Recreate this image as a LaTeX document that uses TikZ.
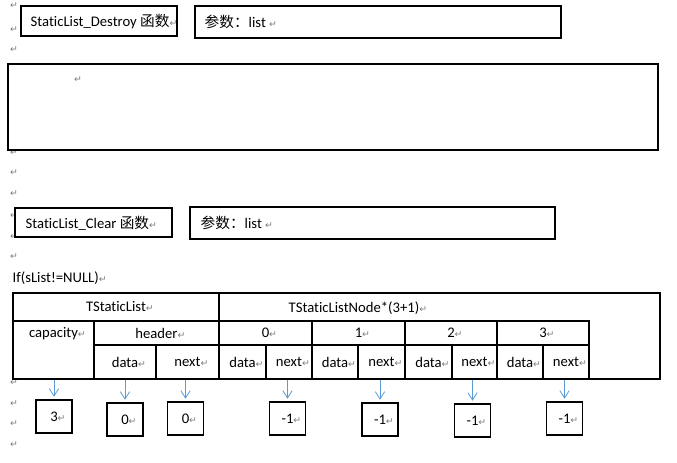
\documentclass[tikz,border=0pt]{standalone}
\usepackage{fontspec}
\setmainfont{Carlito}[Ligatures=NoCommon]
\newfontfamily\cjk{Noto Sans CJK SC}
\newfontfamily\symfont{DejaVu Sans}
\usetikzlibrary{arrows.meta,fit}
\definecolor{arrowblue}{RGB}{91,155,213}
\definecolor{markgray}{RGB}{125,125,125}
\newcommand\retglyph{{\symfont\fontsize{7}{7}\selectfont\color{markgray}↵}}
\newcommand\retmark{\rlap{\retglyph}}

\begin{document}
\begin{tikzpicture}[x=0.75pt,y=-0.75pt,font=\fontsize{11}{13}\selectfont,
	fnbox/.style={draw,line width=1pt,fill=white,inner sep=0pt},
	cell/.style={draw,line width=1pt,inner sep=0pt},
	valbox/.style={draw,line width=0.9pt,fill=white,inner sep=0pt,minimum width=27pt,minimum height=24.75pt},
	link/.style={draw=arrowblue,line width=0.6pt,-{Straight Barb[length=5.5pt,width=7pt,line width=0.6pt]},shorten >=2pt},
	retnode/.style={inner sep=0pt}]
			%%%%% START %%%%%
			\useasboundingbox (0,0) rectangle (677,463);
			
			% paragraph marks in the margin
			\foreach \y [count=\i] in {6,30,50,153,173,194,216,237,257,383,404,424,445}
				\node[retnode] (mark\i) at (14,\y) {\retglyph};
			
			% StaticList_Destroy
			\node[fnbox, fit={(21,6) (177,36)}] (destroy) {};
			\node[anchor=west] (destroytxt) at (26,22) {StaticList\_Destroy {\cjk 函数}\retmark};
			\node[fnbox, fit={(195,6) (561,38)}] (destroyarg) {};
			\node[anchor=west] (destroyargtxt) at (200,22) {{\cjk 参数：}list \retmark};
			
			\node[fnbox, fit={(8,64) (658,150)}] (destroybody) {};
			\node[retnode] (bodymark) at (78,80) {\retglyph};
			
			% StaticList_Clear
			\node[fnbox, fit={(15,208) (172,237)}] (clear) {};
			\node[anchor=west] (cleartxt) at (21,223) {StaticList\_Clear {\cjk 函数}\retmark};
			\node[fnbox, fit={(190,207) (555,239)}] (cleararg) {};
			\node[anchor=west] (clearargtxt) at (196,223) {{\cjk 参数：}list \retmark};
			
			\node[anchor=west] (cond) at (8,278) {If(sList!=NULL)\retmark};
			
			% memory layout
			\node[cell, fit={(13,293) (660,379)}] (tbl) {};
			\node[cell, fit={(13,293) (219,321)}, label=center:{TStaticList\retmark}] (tsl) {};
			\node (tslntxt) at (354,308) {TStaticListNode*(3+1)\retmark};
			
			\node[cell, fit={(13,321) (94,379)}] (cap) {};
			\node (captxt) at (53.5,334) {capacity\retmark};
			\node[cell, fit={(94,321) (219,345)}, label=center:{header\retmark}] (header) {};
			\node[cell, fit={(94,345) (156,379)}, label=center:{data\retmark}] (hdata) {};
			\node[cell, fit={(156,345) (219,379)}, label=center:{next\retmark}] (hnext) {};
			
			\foreach \i/\xa/\xm/\xb in {0/219/266/312,1/312/358/405,2/405/452/497,3/497/543/589}
			{
				\node[cell, fit={(\xa,321) (\xb,345)}, label=center:{\i\retmark}] (idx\i) {};
				\node[cell, fit={(\xa,345) (\xm,379)}, label=center:{data\retmark}] (ndata\i) {};
				\node[cell, fit={(\xm,345) (\xb,379)}, label=center:{next\retmark}] (nnext\i) {};
			}
			
			% values
			\node[valbox] (vcap) at (54,416.5) {3\retmark};
			\node[valbox] (vhdata) at (125,419.5) {0\retmark};
			\node[valbox] (vhnext) at (185.5,418.5) {0\retmark};
			\node[valbox] (vnext0) at (287.5,418.5) {-1\retmark};
			\node[valbox] (vnext1) at (380,419.5) {-1\retmark};
			\node[valbox] (vnext2) at (472.5,420.5) {-1\retmark};
			\node[valbox] (vnext3) at (564.5,418.5) {-1\retmark};
			
			\draw[link] (vcap |- cap.south) -- (vcap);
			\draw[link] (vhdata |- hdata.south) -- (vhdata);
			\draw[link] (vhnext |- hnext.south) -- (vhnext);
			\foreach \i in {0,...,3}
				\draw[link] (vnext\i |- nnext\i.south) -- (vnext\i);
			
			%%%%% END %%%%%
\end{tikzpicture}
\end{document}
